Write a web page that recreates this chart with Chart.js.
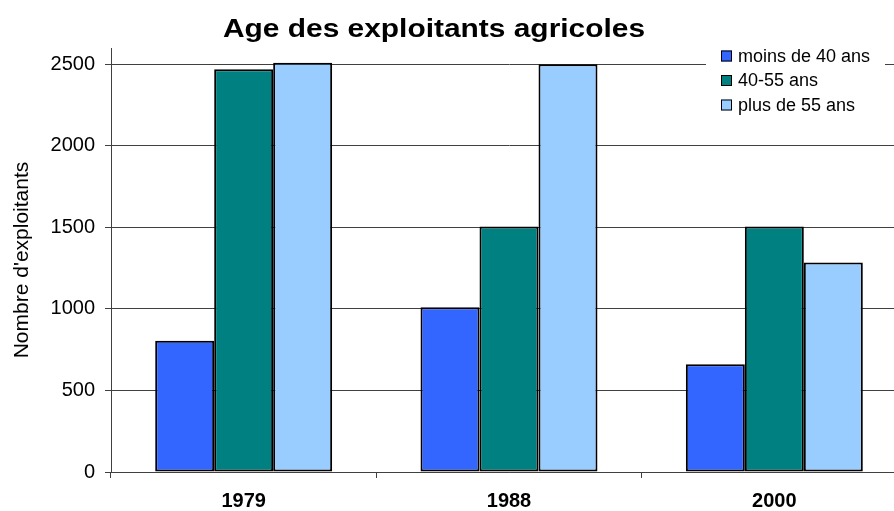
<!DOCTYPE html>
<html lang="fr">
<head>
<meta charset="utf-8">
<title>Age des exploitants agricoles</title>
<script src="https://cdn.jsdelivr.net/npm/chart.js@4.4.1/dist/chart.umd.min.js"></script>
<style>
  html, body { margin: 0; padding: 0; background: #fff; }
  #cadre { width: 894px; height: 511px; overflow: hidden; }
  canvas { display: block; }
</style>
</head>
<body>
<div id="cadre">
  <canvas id="graphique" width="910" height="511"></canvas>
</div>
<script>
// années de recensement
const annees = ["1979", "1988", "2000"];

// nombre d'exploitants par tranche d'âge
const moins40 = [805, 1010, 660];
const de40a55 = [2470, 1505, 1505];
const plus55 = [2510, 2500, 1285];

// graduations de l'axe vertical
const graduationsY = [0, 500, 1000, 1500, 2000, 2500];

const libelles = ["moins de 40 ans", "40-55 ans", "plus de 55 ans"];
const couleurs = ["#3366FF", "#008080", "#99CCFF"];

const titre = "Age des exploitants agricoles";
const titreAxeY = "Nombre d'exploitants";
const police = "'Liberation Sans', Arial, sans-serif";

// titre dessiné à la main pour pouvoir l'étirer un peu en largeur
const pluginTitre = {
  id: "titreGraphique",
  afterDraw(chart) {
    const ctx = chart.ctx;
    ctx.save();
    ctx.fillStyle = "#000";
    ctx.font = "bold 26px " + police;
    ctx.textAlign = "center";
    ctx.textBaseline = "alphabetic";
    ctx.translate(434, 37);
    ctx.scale(1.15, 1);
    ctx.fillText(titre, 0, 0);
    ctx.restore();
  },
};

// légende dans un cadre blanc, en haut à droite
const pluginLegende = {
  id: "legendeCadre",
  afterDraw(chart) {
    const ctx = chart.ctx;
    ctx.save();
    ctx.fillStyle = "#fff";
    ctx.fillRect(706, 44, 179, 76);
    ctx.font = "18px " + police;
    ctx.textBaseline = "middle";
    chart.data.datasets.forEach((ds, i) => {
      const y = 56 + i * 24.5;
      ctx.fillStyle = ds.backgroundColor;
      ctx.fillRect(721, y - 5.5, 11, 11);
      ctx.strokeStyle = "#000";
      ctx.lineWidth = 1;
      ctx.strokeRect(721.5, y - 5, 10, 10);
      ctx.fillStyle = "#000";
      ctx.fillText(ds.label, 738, y + 1);
    });
    ctx.restore();
  },
};

const ctx = document.getElementById("graphique").getContext("2d");

const chart = new Chart(ctx, {
  type: "bar",
  data: {
    labels: annees,
    datasets: [
      { label: libelles[0], data: moins40, backgroundColor: couleurs[0] },
      { label: libelles[1], data: de40a55, backgroundColor: couleurs[1] },
      { label: libelles[2], data: plus55, backgroundColor: couleurs[2] },
    ].map((ds) => ({
      ...ds,
      borderColor: "#000",
      borderWidth: 2,
      borderSkipped: false,
      categoryPercentage: 0.667,
      barPercentage: 1,
    })),
  },
  options: {
    responsive: false,
    animation: false,
    devicePixelRatio: 1,
    layout: { padding: { top: 48, right: 3, left: 0, bottom: 0 } },
    plugins: {
      legend: { display: false },
      title: { display: false },
      tooltip: { enabled: false },
    },
    scales: {
      x: {
        grid: {
          offset: true,
          drawOnChartArea: false,
          drawTicks: true,
          tickLength: 6,
          color: "#404040",
        },
        border: { color: "#404040", width: 1 },
        ticks: {
          color: "#000",
          padding: 11,
          font: { family: police, size: 20, weight: "bold" },
        },
        afterFit(scale) {
          scale.height = 39;
        },
      },
      y: {
        min: 0,
        max: 2600,
        ticks: {
          color: "#000",
          padding: 10,
          font: { family: police, size: 20 },
          callback: (v) => String(v),
        },
        afterBuildTicks(scale) {
          // l'axe monte un peu au-dessus de la dernière graduation
          scale.ticks = graduationsY.map((v) => ({ value: v }));
        },
        grid: { color: "#404040", tickLength: 6, lineWidth: 1 },
        border: { color: "#404040", width: 1 },
        title: {
          display: true,
          text: titreAxeY,
          color: "#000",
          padding: { top: 10, bottom: 0 },
          font: { family: police, size: 21 },
        },
        afterFit(scale) {
          scale.width = 111;
        },
      },
    },
  },
  plugins: [pluginTitre, pluginLegende],
});
</script>
</body>
</html>
